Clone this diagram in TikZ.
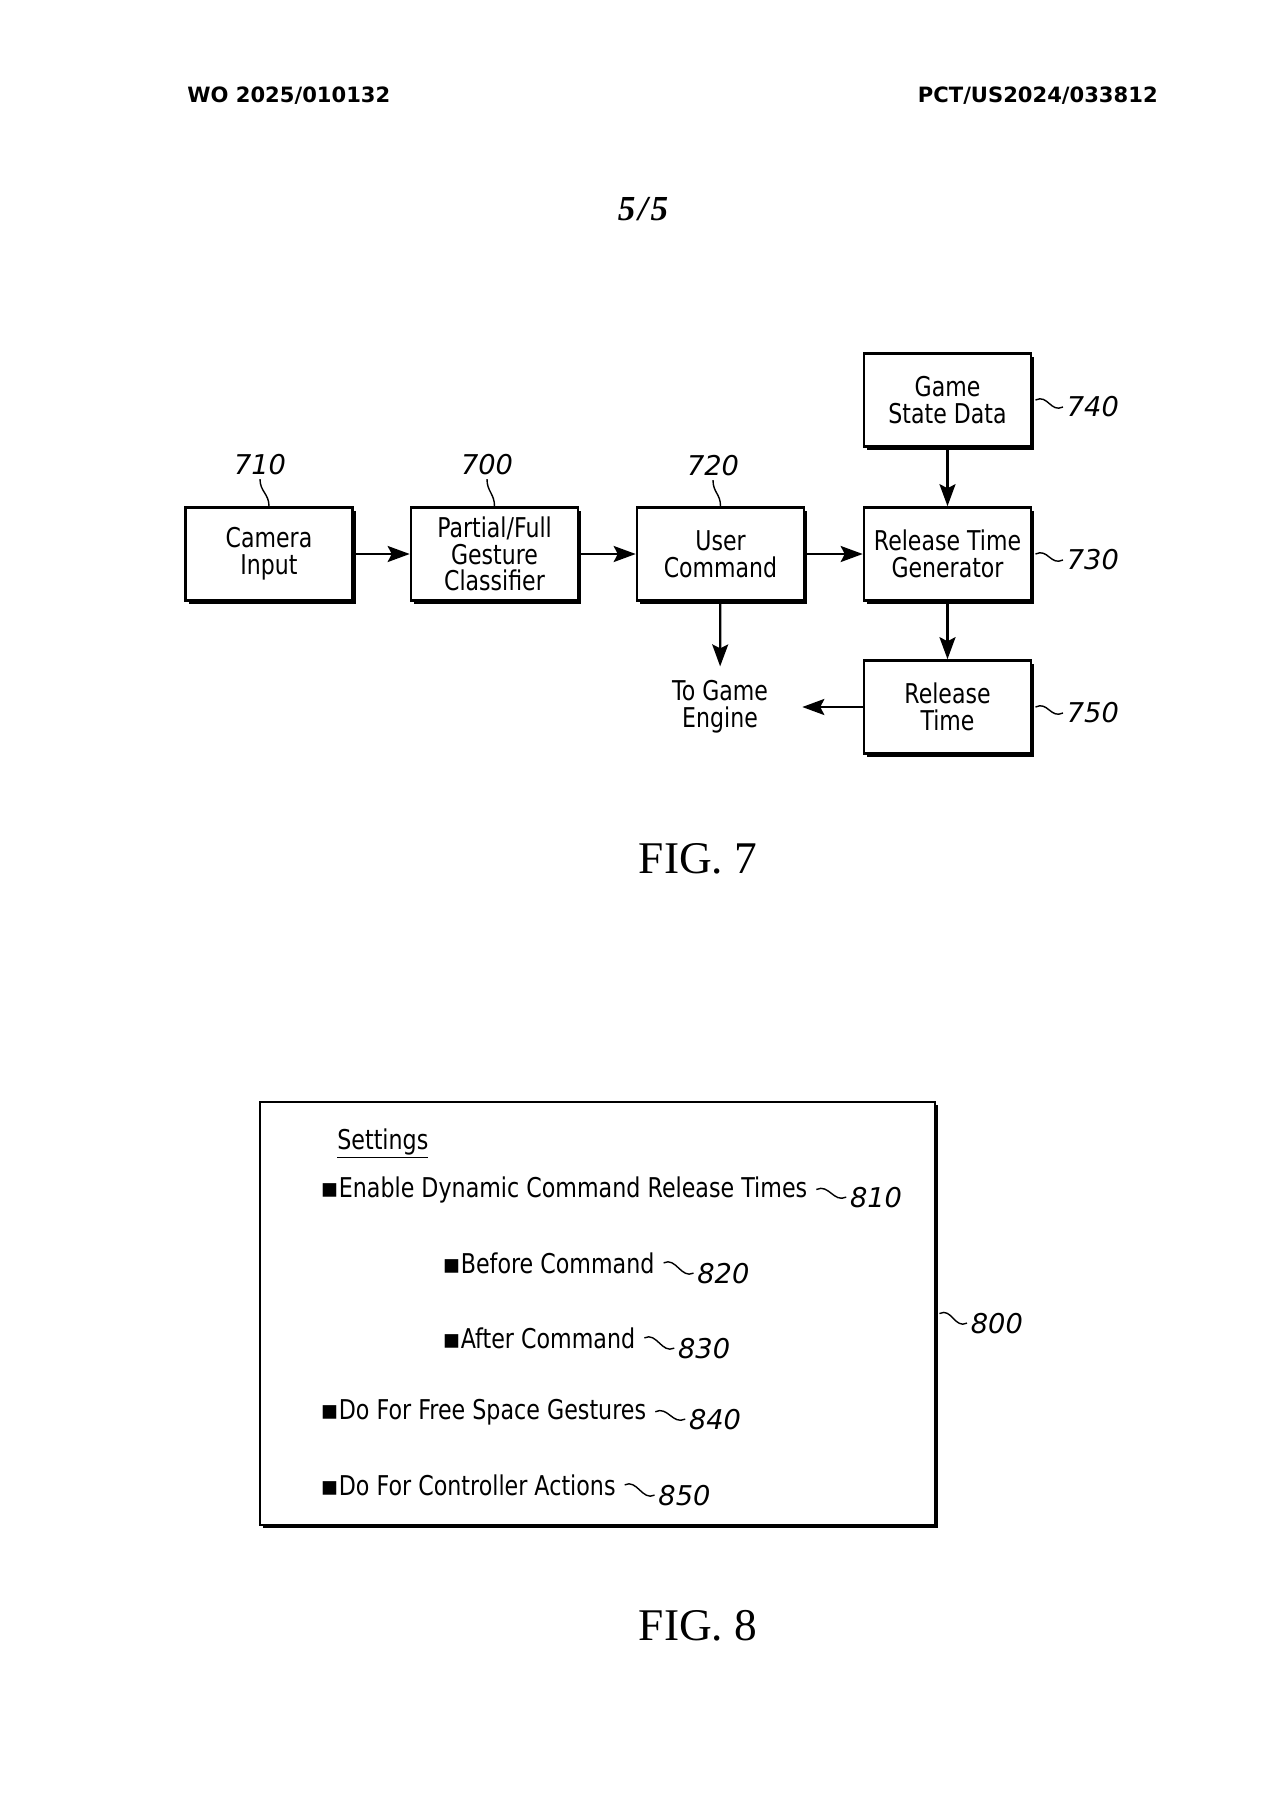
\documentclass[tikz,border=0pt]{standalone}
\usepackage{fontspec}
\setmainfont{DejaVu Sans}
\newfontfamily\boxfont[FakeStretch=0.81]{DejaVu Sans}
\newfontfamily\itemfont[FakeStretch=0.815]{DejaVu Sans}
\newfontfamily\reffont{DejaVu Sans}
\newfontfamily\figfont{Liberation Serif}
\usetikzlibrary{arrows.meta,shadows}

\tikzset{
  block/.style={draw,line width=1.5pt,fill=white,minimum width=3.34cm,minimum height=1.86cm,
    align=center,inner sep=0pt,font=\boxfont\fontsize{15.5}{15.2}\selectfont,
    drop shadow={shadow xshift=1.8pt,shadow yshift=-1.8pt,fill=black,opacity=1}},
  flow/.style={line width=1.3pt,-{Stealth[length=0.44cm,width=0.32cm,inset=0.08cm]}},
  refnum/.style={font=\reffont\itshape\fontsize{15.5}{18}\selectfont,inner sep=2pt},
  leader/.style={line width=0.8pt},
  item/.style={font=\itemfont\fontsize{15.5}{18}\selectfont,inner sep=0pt},
}

\begin{document}
\begin{tikzpicture}[x=0.02cm,y=-0.02cm]
  \useasboundingbox (0,0) rectangle (1280,1812);
  % page header
  \node[anchor=base west,inner sep=0pt,font=\bfseries\fontsize{12}{14}\selectfont] (hdl) at (187,102) {WO 2025/010132};
  \node[anchor=base east,inner sep=0pt,font=\bfseries\fontsize{12}{14}\selectfont] (hdr) at (1158,102) {PCT/US2024/033812};
  \node[anchor=base,inner sep=0pt,font=\figfont\bfseries\itshape\fontsize{20}{22}\selectfont] (sheet) at (643,220) {5\kern1.5pt/\kern1.5pt5};

  % FIG. 7
  \node[block] (cam)   at (269,554)   {Camera\\Input};
  \node[block] (gest)  at (494.5,554) {Partial/Full\\Gesture\\Classifier};
  \node[block] (ucmd)  at (720.5,554) {User\\Command};
  \node[block] (rtg)   at (947.5,554) {Release Time\\Generator};
  \node[block] (gsd)   at (947.5,400) {Game\\State Data};
  \node[block] (rtime) at (947.5,707) {Release\\Time};
  \node[align=center,inner xsep=0.68cm,inner ysep=0.28cm,font=\boxfont\fontsize{15.5}{15.2}\selectfont] (tge) at (720,707) {To Game\\Engine};

  \draw[flow] (cam) -- (gest);
  \draw[flow] (gest) -- (ucmd);
  \draw[flow] (ucmd) -- (rtg);
  \draw[flow] (gsd) -- (rtg);
  \draw[flow] (rtg) -- (rtime);
  \draw[flow] (ucmd) -- (tge);
  \draw[flow] (rtime) -- (tge);

  \node[refnum] (l710) at (260,465) {710};
  \node[refnum] (l700) at (487,465) {700};
  \node[refnum] (l720) at (713,466) {720};
  \node[refnum,anchor=west] (l740) at (1063,407) {740};
  \node[refnum,anchor=west] (l730) at (1063,560) {730};
  \node[refnum,anchor=west] (l750) at (1063,713) {750};
  \draw[leader] (l710.south) .. controls +(0,-0.25cm) and +(0,0.25cm) .. (cam.north);
  \draw[leader] (l700.south) .. controls +(0,-0.25cm) and +(0,0.25cm) .. (gest.north);
  \draw[leader] (l720.south) .. controls +(0,-0.25cm) and +(0,0.25cm) .. (ucmd.north);
  \draw[leader] ([xshift=1.8pt]gsd.east) .. controls +(0.25cm,0.12cm) and +(-0.25cm,-0.12cm) .. (l740.west);
  \draw[leader] ([xshift=1.8pt]rtg.east) .. controls +(0.25cm,0.12cm) and +(-0.25cm,-0.12cm) .. (l730.west);
  \draw[leader] ([xshift=1.8pt]rtime.east) .. controls +(0.25cm,0.12cm) and +(-0.25cm,-0.12cm) .. (l750.west);

  \node[anchor=base,inner sep=0pt,font=\figfont\fontsize{25.8}{28}\selectfont] (fig7) at (698,873) {FIG. 7};

  % FIG. 8
  \node[draw,line width=1.5pt,fill=white,minimum width=13.5cm,minimum height=8.46cm,
    drop shadow={shadow xshift=1.8pt,shadow yshift=-1.8pt,fill=black,opacity=1}] (frame) at (597.5,1313.5) {};
  \node[item,anchor=base west] (tset) at (337,1149) {\underline{Settings}};
  \node[item,anchor=base west] (t810) at (320,1197) {{\reffont ▪}Enable Dynamic Command Release Times};
  \node[item,anchor=base west] (t820) at (442,1273) {{\reffont ▪}Before Command};
  \node[item,anchor=base west] (t830) at (442,1348) {{\reffont ▪}After Command};
  \node[item,anchor=base west] (t840) at (320,1419) {{\reffont ▪}Do For Free Space Gestures};
  \node[item,anchor=base west] (t850) at (320,1495) {{\reffont ▪}Do For Controller Actions};

  \node[refnum,anchor=base west] (l810) at ([xshift=22pt,yshift=-5.7pt]t810.base east) {810};
  \node[refnum,anchor=base west] (l820) at ([xshift=22pt,yshift=-5.7pt]t820.base east) {820};
  \node[refnum,anchor=base west] (l830) at ([xshift=22pt,yshift=-5.7pt]t830.base east) {830};
  \node[refnum,anchor=base west] (l840) at ([xshift=22pt,yshift=-5.7pt]t840.base east) {840};
  \node[refnum,anchor=base west] (l850) at ([xshift=22pt,yshift=-5.7pt]t850.base east) {850};
  \node[refnum,anchor=base west] (l800) at (967,1333) {800};
  \draw[leader] ([xshift=5pt]t810.east) .. controls +(0.25cm,0.12cm) and +(-0.25cm,-0.12cm) .. (l810.west);
  \draw[leader] ([xshift=5pt]t820.east) .. controls +(0.25cm,0.12cm) and +(-0.25cm,-0.12cm) .. (l820.west);
  \draw[leader] ([xshift=5pt]t830.east) .. controls +(0.25cm,0.12cm) and +(-0.25cm,-0.12cm) .. (l830.west);
  \draw[leader] ([xshift=5pt]t840.east) .. controls +(0.25cm,0.12cm) and +(-0.25cm,-0.12cm) .. (l840.west);
  \draw[leader] ([xshift=5pt]t850.east) .. controls +(0.25cm,0.12cm) and +(-0.25cm,-0.12cm) .. (l850.west);
  \draw[leader] ([xshift=1.8pt]frame.east) .. controls +(0.25cm,0.12cm) and +(-0.25cm,-0.12cm) .. (l800.west);

  \node[anchor=base,inner sep=0pt,font=\figfont\fontsize{25.8}{28}\selectfont] (fig8) at (698,1640) {FIG. 8};
\end{tikzpicture}
\end{document}
